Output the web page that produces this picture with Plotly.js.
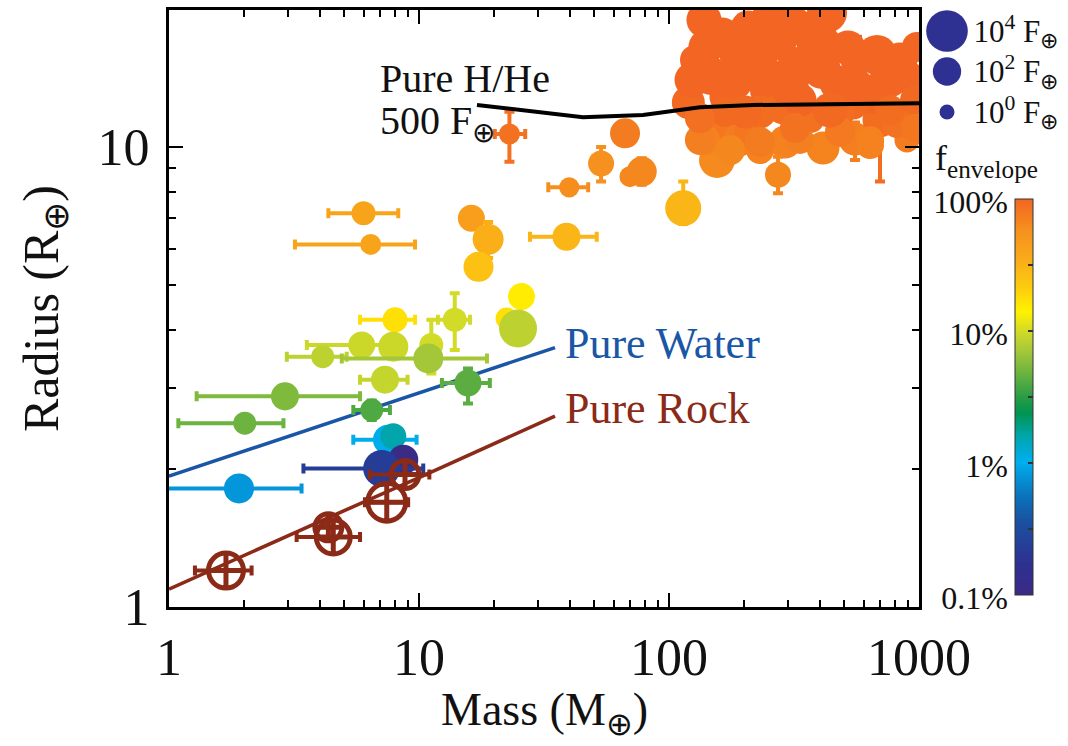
<!DOCTYPE html>
<html><head><meta charset="utf-8">
<script src="https://cdn.plot.ly/plotly-3.0.1.min.js"></script>
<style>html,body{margin:0;padding:0;background:#fff}</style>
</head><body><div id="chart" style="width:1068px;height:746px"></div>
<script>
// ---------------- DATA ----------------
// Planets: mass (M_earth), radius (R_earth), incident flux (F_earth), envelope fraction (%)
const planetMass = [6.0, 6.41, 16.2, 18.9, 17.3, 38.9, 22.4, 25.7, 24.9, 8.02,
  13.9, 5.90, 7.89, 11.2, 4.12, 10.9, 7.31, 15.7, 2.91, 6.47,
  2.01, 7.52, 7.89, 8.65, 7.09, 1.905, 23.0, 39.9, 53.5, 66.7,
  69.8, 77.8, 114,
  119.5, 138.0, 140.6, 147.2, 187.1, 158.5, 155.6, 190.5, 208.9, 260.6,
  270.4, 325.1, 253.5, 170.6, 413.0, 428.5, 285.8, 366.4, 291.1, 272.9,
  413.0, 554.6, 564.9, 679.2, 698.2, 654.6, 863, 895, 920, 982,
  469.9, 544.5, 765.6, 237.7, 376.7, 816.6, 167.5, 231.2, 334.2, 483.1,
  765.6, 139.3, 175.4, 231.2, 319.2, 210.9, 334.2, 636.8, 127.1,
  123.6, 162.9, 207.0, 231.2, 183.7, 304.8, 409.3, 520.0, 570.2, 839.5,
  963.8, 133.0, 231.2, 319.2, 483.1, 636.8, 963.8, 201.4, 440.6, 133.0];
const planetRadius = [7.18, 6.14, 7.0, 6.30, 5.49, 6.38, 4.24, 4.73, 4.03, 4.21,
  4.21, 3.71, 3.68, 3.71, 3.50, 3.47, 3.12, 3.07, 2.87, 2.68,
  2.51, 2.31, 2.35, 2.09, 2.0, 1.81, 10.67, 8.17, 9.21, 10.71,
  8.62, 8.84, 7.36,
  12.50, 18.88, 16.50, 14.27, 15.85, 11.0, 9.37, 10.36, 10.83, 19.56,
  17.08, 14.92, 13.30, 12.85, 16.83, 19.56, 12.22, 11.56, 10.25, 8.70,
  9.95, 10.41, 15.46, 15.85, 11.45, 12.85, 11.45, 10.36, 14.2, 16.50,
  13.78, 12.47, 14.2, 17.08, 17.08, 11.28, 11.92, 11.92, 12.65, 11.92,
  12.03, 10.36, 9.85, 9.85, 18.42, 15.46, 10.36, 10.36, 15.46,
  13.99, 17.52, 18.14, 14.85, 13.85, 13.44, 14.70, 16.42, 13.44, 15.46,
  12.65, 10.36, 10.25, 11.0, 10.78, 10.10, 11.0, 11.92, 12.03, 11.56];
const planetFlux = [22, 8, 63, 250, 180, 90, 11, 63, 2800, 32,
  22, 63, 180, 22, 16, 180, 90, 63, 90, 16,
  16, 180, 45, 180, 2000, 180, 8, 6, 45, 180,
  8, 180, 1400,
  500, 1000, 1000, 2800, 1000, 500, 1400, 500, 180, 5600,
  5600, 5600, 5600, 1000, 1000, 5600, 1000, 180, 500, 45,
  500, 500, 500, 5600, 1000, 1000, 180, 32, 180, 180,
  1000, 500, 5600, 5600, 1000, 180, 180, 500, 500, 180,
  180, 180, 180, 90, 1000, 1000, 90, 90, 180,
  1000, 1000, 1000, 2800, 1000, 2800, 2800, 1000, 1000, 1000,
  180, 180, 180, 180, 180, 90, 90, 500, 1000, 180];
const planetFenv = [40, 40, 45, 33, 25, 30, 17, 15, 8.5, 17,
  10, 9.5, 9.5, 10, 8.5, 7, 9, 4.3, 5.5, 4,
  4.8, 1.05, 1.6, 0.11, 0.23, 0.8, 85, 60, 58, 75,
  65, 65, 30,
  95, 100, 100, 100, 100, 80, 62, 75, 80, 100,
  100, 100, 100, 100, 100, 100, 92, 85, 70, 65,
  68, 72, 100, 100, 90, 100, 85, 75, 100, 100,
  100, 95, 100, 100, 100, 85, 95, 90, 100, 90,
  90, 70, 65, 70, 100, 100, 72, 70, 100,
  100, 100, 100, 100, 100, 100, 100, 100, 100, 100,
  95, 72, 75, 85, 78, 70, 80, 95, 95, 88];
// error-bar limits (null = no error bar)
const massLow = [4.34, 3.19, null, null, null, 27.8, null, null, null, 5.81,
  11.9, 3.56, null, null, 2.96, 4.91, 5.81, 12.35, 1.29, 5.46,
  1.09, 5.46, null, null, 3.45, 0.9, 20.1, 32.9, null, null,
  null, null, null];
const massHigh = [8.26, 9.64, null, null, null, 51.4, null, null, null, 9.64,
  16.0, 7.9, null, null, 5.14, 18.7, 9.0, 19.2, 5.81, 7.65,
  2.87, 9.78, null, null, 10.4, 3.39, 26.6, 47.5, null, null,
  null, null, null];
const radiusLow = [null, null, null, 5.74, null, null, null, null, null, null,
  3.62, null, null, 3.22, null, null, null, 2.77, null, 2.55,
  null, null, null, null, null, null, 9.29, null, 8.41, null,
  null, 8.28, 6.8,
  null, null, null, null, null, null, null, null, null, null,
  null, null, null, null, null, null, null, null, null, 7.93,
  null, 9.37, 13.75, null, 8.41];
const radiusHigh = [null, null, null, 6.87, null, null, null, null, null, null,
  4.81, null, null, 4.21, null, null, null, 3.30, null, 2.81,
  null, null, null, null, null, null, 11.93, null, 10.0, null,
  null, 9.45, 8.41,
  null, null, null, null, null, null, null, null, null, null,
  null, null, null, null, null, null, null, null, null, 9.52,
  null, 11.3, 17.37, null, 12.5];

// Rocky planets (no envelope)
const rockMass = [8.79, 7.43, 4.34, 4.54, 1.69];
const rockRadius = [1.94, 1.69, 1.49, 1.42, 1.20];
const rockFlux = [89, 2800, 63, 700, 1000];
const rockMassLow = [6.36, 6.08, null, 3.24, 1.27];
const rockMassHigh = [11.0, 9.05, null, 5.81, 2.14];

// Model curves
const waterMass = [1, 2, 5, 10, 20, 35];
const waterRadius = [1.925, 2.183, 2.576, 2.92, 3.311, 3.664];
const rockLineMass = [1, 2, 5, 10, 20, 35];
const rockLineRadius = [1.094, 1.296, 1.618, 1.91, 2.26, 2.60];
const hheMass = [17.06, 45.3, 78.7, 100.9, 133, 216.8, 1000];
const hheRadius = [12.34, 11.60, 11.74, 11.97, 12.2, 12.34, 12.45];

// Axis ticks / legend
const massTicks = [1, 10, 100, 1000];
const radiusTicks = [1, 10];
const legendFlux = [1e4, 1e2, 1];
const legendLabels = ['10<sup>4</sup> F<sub>⊕</sub>', '10<sup>2</sup> F<sub>⊕</sub>', '10<sup>0</sup> F<sub>⊕</sub>'];
const fenvTicks = [0.1, 1, 10, 100];
const fenvTickText = ['0.1%', '1%', '10%', '100%'];

// ---------------- STYLE ----------------
const FONT = 'Liberation Serif';
const colorStops = [
  [0.00, '#3b2a84'], [0.08, '#2e3192'], [0.18, '#1b4f9f'], [0.25, '#0b72bb'],
  [0.335, '#00aeef'], [0.40, '#00a6ad'], [0.46, '#009450'], [0.50, '#2a9c45'],
  [0.56, '#6cb33f'], [0.62, '#a8c938'], [0.67, '#d5dc26'], [0.715, '#fff200'],
  [0.78, '#fdca0f'], [0.85, '#f9aa1a'], [0.92, '#f6911e'], [1.00, '#f26522']];
const ROCK = '#8c2a18', WATER = '#1a56a6';

function fluxSize(F) { return 15 + (20 / 3) * Math.log10(F); }
function hex(h) { return [1, 3, 5].map(i => parseInt(h.substr(i, 2), 16)); }
function colorAt(t) {
  t = Math.max(0, Math.min(1, t));
  for (let i = 1; i < colorStops.length; i++) {
    if (t <= colorStops[i][0]) {
      const a = colorStops[i - 1], b = colorStops[i];
      const f = (t - a[0]) / (b[0] - a[0]);
      const ca = hex(a[1]), cb = hex(b[1]);
      const c = ca.map((v, k) => Math.round(v + f * (cb[k] - v)));
      return 'rgb(' + c.join(',') + ')';
    }
  }
  return colorStops[colorStops.length - 1][1];
}
const fenvLog = p => Math.log10(p / 100);

// pixel helpers for layout placement (paper: l=169, width 899; t=10, height 597)
const PW = 899, PH = 597;
const pX = px => (px - 169) / PW;
const pY = py => (607 - py) / PH;

const traces = [];
traces.push({type: 'scatter', mode: 'lines', x: waterMass, y: waterRadius,
  line: {color: WATER, width: 3.5}, hoverinfo: 'skip', showlegend: false});
traces.push({type: 'scatter', mode: 'lines', x: rockLineMass, y: rockLineRadius,
  line: {color: ROCK, width: 3.5}, hoverinfo: 'skip', showlegend: false});

for (let i = 0; i < planetMass.length; i++) {
  const m = planetMass[i], r = planetRadius[i];
  const lv = fenvLog(planetFenv[i]);
  const c = colorAt((lv + 3) / 3);
  const ml = massLow[i], mh = massHigh[i], rl = radiusLow[i], rh = radiusHigh[i];
  const tr = {
    type: 'scatter', mode: 'markers', x: [m], y: [r], showlegend: false,
    marker: {size: [fluxSize(planetFlux[i])], color: [lv], colorscale: colorStops,
      cmin: -3, cmax: 0, line: {width: 0}, opacity: 1},
    error_x: (ml != null) ? {type: 'data', symmetric: false, array: [mh - m], arrayminus: [m - ml],
      color: c, thickness: 4, width: 5} : {visible: false},
    error_y: (rl != null) ? {type: 'data', symmetric: false, array: [rh - r], arrayminus: [r - rl],
      color: c, thickness: 4, width: 5} : {visible: false},
  };
  if (i === 0) {
    tr.marker.showscale = true;
    tr.marker.colorbar = {
      x: pX(1015), xanchor: 'left', y: pY(595), yanchor: 'bottom',
      len: 396, lenmode: 'pixels', thickness: 18, thicknessmode: 'pixels',
      outlinewidth: 1, outlinecolor: '#333', xpad: 0, ypad: 0,
      ticks: 'inside', ticklen: 5, tickwidth: 1.5, tickcolor: '#333',
      tickmode: 'array', tickvals: [-2.5, -2, -1.5, -1, -0.5], showticklabels: false
    };
  } else {
    tr.marker.showscale = false;
  }
  traces.push(tr);
}

for (let i = 0; i < rockMass.length; i++) {
  const m = rockMass[i];
  traces.push({
    type: 'scatter', mode: 'markers', x: [m], y: [rockRadius[i]], showlegend: false,
    marker: {symbol: 'circle-cross-open', size: [fluxSize(rockFlux[i])], color: ROCK, opacity: 1,
      line: {width: 5, color: ROCK}},
    error_x: (rockMassLow[i] != null) ? {type: 'data', symmetric: false, array: [rockMassHigh[i] - m],
      arrayminus: [m - rockMassLow[i]], color: ROCK, thickness: 4, width: 5} : {visible: false}
  });
}

traces.push({type: 'scatter', mode: 'lines', x: hheMass, y: hheRadius,
  line: {color: '#000', width: 4}, hoverinfo: 'skip', showlegend: false});

traces.push({type: 'scatter', mode: 'markers', xaxis: 'x2', yaxis: 'y2',
  x: legendFlux.map(() => 0.5), y: legendFlux, cliponaxis: false, showlegend: false,
  marker: {size: legendFlux.map(fluxSize), color: '#2e3192', opacity: 1, line: {width: 0}}});
traces.push({type: 'scatter', mode: 'markers', xaxis: 'x3', yaxis: 'y3', x: [], y: [], showlegend: false});

const axisCommon = {
  showline: true, linewidth: 3, linecolor: '#000', mirror: 'allticks',
  ticks: 'inside', ticklen: 14, tickwidth: 2, tickcolor: '#000',
  showgrid: false, zeroline: false, automargin: false,
  tickfont: {family: FONT, size: 52, color: '#111'}
};
const minorX = [], minorY = [];
[1, 10, 100].forEach(d => { for (let k = 2; k <= 9; k++) minorX.push(k * d); });
[1, 10].forEach(d => { for (let k = 2; k <= 9; k++) minorY.push(k * d); });

const layout = {
  width: 1068, height: 746,
  margin: {l: 169, r: 0, t: 10, b: 139},
  paper_bgcolor: '#fff', plot_bgcolor: '#fff',
  showlegend: false,
  font: {family: FONT},
  xaxis: Object.assign({}, axisCommon, {
    type: 'log', range: [0, 3], domain: [0, 750 / PW], anchor: 'y',
    tickmode: 'array', tickvals: massTicks, ticktext: massTicks.map(String),
    ticklabelstandoff: 3,
    minor: {ticks: 'inside', ticklen: 7, tickwidth: 2, tickcolor: '#000', tickmode: 'array', tickvals: minorX}
  }),
  yaxis: Object.assign({}, axisCommon, {
    type: 'log', range: [0, 1.2978], domain: [0, 1], anchor: 'x',
    tickmode: 'array', tickvals: radiusTicks, ticktext: radiusTicks.map(String),
    ticklabelstandoff: 6,
    minor: {ticks: 'inside', ticklen: 7, tickwidth: 2, tickcolor: '#000', tickmode: 'array', tickvals: minorY},
    title: {text: 'Radius (R<sub>⊕</sub>)', font: {family: FONT, size: 50, color: '#111'}, standoff: 24}
  }),
  xaxis2: {domain: [pX(929.5), pX(964.5)], range: [0, 1], visible: false, anchor: 'y2', fixedrange: true},
  yaxis2: {domain: [pY(130), pY(10)], type: 'log', range: [-0.889, 5.037], anchor: 'x2', side: 'right',
    showline: false, showgrid: false, zeroline: false, ticks: '', tickmode: 'array',
    tickvals: legendFlux, ticktext: legendLabels, ticklabelstandoff: 8,
    tickfont: {family: FONT, size: 31, color: '#111'}},
  xaxis3: {domain: [pX(1015), pX(1033)], range: [0, 1], visible: false, anchor: 'y3', fixedrange: true},
  yaxis3: {domain: [pY(595), pY(199)], type: 'log', range: [-1, 2], anchor: 'x3', side: 'left',
    showline: false, showgrid: false, zeroline: false, ticks: '', tickmode: 'array',
    tickvals: fenvTicks, ticktext: fenvTickText, ticklabelstandoff: 6, ticklabelshift: 3,
    tickfont: {family: FONT, size: 32, color: '#111'}},
  annotations: [
    {xref: 'paper', yref: 'paper', x: pX(544), y: pY(744), xanchor: 'center', yanchor: 'bottom', showarrow: false,
      text: 'Mass (M<sub>⊕</sub>)', font: {family: FONT, size: 46, color: '#111'}},
    {xref: 'paper', yref: 'paper', x: pX(378), y: pY(79), xanchor: 'left', yanchor: 'middle', showarrow: false,
      text: 'Pure H/He', font: {family: FONT, size: 40, color: '#111'}},
    {xref: 'paper', yref: 'paper', x: pX(378), y: pY(123), xanchor: 'left', yanchor: 'middle', showarrow: false,
      text: '500 F<sub>⊕</sub>', font: {family: FONT, size: 40, color: '#111'}},
    {xref: 'paper', yref: 'paper', x: pX(563), y: pY(343), xanchor: 'left', yanchor: 'middle', showarrow: false,
      text: 'Pure Water', font: {family: FONT, size: 44, color: WATER}},
    {xref: 'paper', yref: 'paper', x: pX(563), y: pY(408), xanchor: 'left', yanchor: 'middle', showarrow: false,
      text: 'Pure Rock', font: {family: FONT, size: 44, color: ROCK}},
    {xref: 'paper', yref: 'paper', x: pX(933), y: pY(160), xanchor: 'left', yanchor: 'middle', showarrow: false,
      text: 'f<sub>envelope</sub>', font: {family: FONT, size: 36, color: '#111'}}
  ]
};

Plotly.newPlot('chart', traces, layout, {staticPlot: true, displayModeBar: false});
</script>
</body></html>
